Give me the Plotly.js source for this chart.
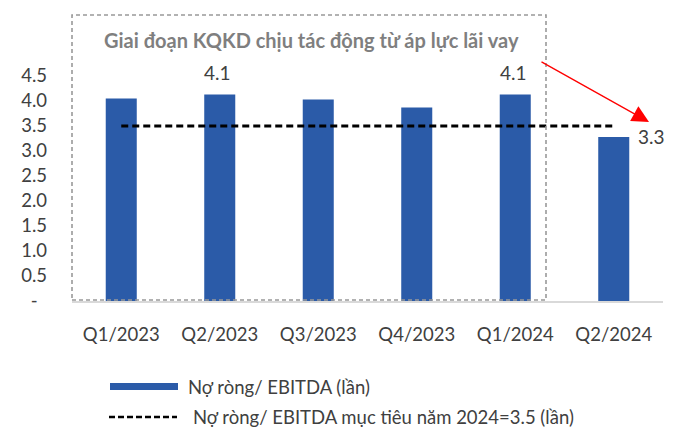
<!DOCTYPE html>
<html>
<head>
<meta charset="utf-8">
<script src="https://cdn.plot.ly/plotly-3.0.1.min.js"></script>
<style>html,body{margin:0;padding:0;background:#fff;}#chart{width:684px;height:442px;}</style>
</head>
<body>
<div id="chart"></div>
<script>
// ---- data ----
var categories = ["Q1/2023", "Q2/2023", "Q3/2023", "Q4/2023", "Q1/2024", "Q2/2024"];
var netDebtEbitda = [4.05, 4.13, 4.03, 3.87, 4.13, 3.28];
var target2024 = [3.5, 3.5, 3.5, 3.5, 3.5, 3.5];
var barLabels = ["", "4.1", "", "", "4.1", "3.3"];
var yTickVals = [0, 0.5, 1.0, 1.5, 2.0, 2.5, 3.0, 3.5, 4.0, 4.5];
var yTickText = ["-\u00a0\u00a0", "0.5", "1.0", "1.5", "2.0", "2.5", "3.0", "3.5", "4.0", "4.5"];
var seriesNames = ["Nợ ròng/ EBITDA (lần)", "Nợ ròng/ EBITDA mục tiêu năm 2024=3.5 (lần)"];
var boxTitle = "Giai đoạn KQKD chịu tác động từ áp lực lãi vay";

// ---- layout geometry (pixels) ----
var W = 684, H = 442;
var L = 72, R = 21, T = 76, B = 141;
var PW = W - L - R, PH = H - T - B;
function px(x) { return (x - L) / PW; }
function py(y) { return (H - B - y) / PH; }

var FONT = "Lato, 'Open Sans', sans-serif";
var TXT = "#404040";
var BLUE = "#2B5BA8";

var traces = [
  {
    type: "bar", x: categories, y: netDebtEbitda, name: seriesNames[0],
    width: 0.315, marker: {color: BLUE}, hoverinfo: "skip", showlegend: false
  },
  {
    type: "scatter", mode: "lines", x: categories, y: target2024, name: seriesNames[1],
    line: {color: "#000", width: 3, dash: "7px,4px"}, hoverinfo: "skip", showlegend: false
  }
];

var annotations = [];
for (var i = 0; i < categories.length; i++) {
  if (!barLabels[i]) continue;
  var last = (i === categories.length - 1);
  annotations.push({
    x: categories[i], y: netDebtEbitda[i], xref: "x", yref: "y",
    text: barLabels[i], showarrow: false,
    xanchor: "center", yanchor: "middle",
    xshift: last ? 38 : -2, yshift: last ? 1 : 22,
    font: {family: FONT, size: 19, color: TXT}
  });
}
// box title
annotations.push({
  x: px(102), y: py(40), xref: "paper", yref: "paper", xanchor: "left", yanchor: "middle",
  text: "<b>" + boxTitle + "</b>", showarrow: false,
  font: {family: FONT, size: 20, color: "#7F7F7F"}
});
// red arrow
annotations.push({
  x: px(649), y: py(122), xref: "paper", yref: "paper",
  ax: 540 - 649, ay: 61 - 122, axref: "pixel", ayref: "pixel",
  text: "", showarrow: true, arrowcolor: "#FF0000", arrowwidth: 1.3,
  arrowhead: 2, arrowsize: 2.6, standoff: 0
});
// legend texts
annotations.push({
  x: px(186), y: py(387), xref: "paper", yref: "paper", xanchor: "left", yanchor: "middle",
  text: seriesNames[0], showarrow: false, font: {family: FONT, size: 18.5, color: TXT}
});
annotations.push({
  x: px(191), y: py(417), xref: "paper", yref: "paper", xanchor: "left", yanchor: "middle",
  text: seriesNames[1], showarrow: false, font: {family: FONT, size: 18.5, color: TXT}
});

var shapes = [
  // dashed box around period
  {type: "rect", xref: "paper", yref: "paper", x0: px(72), x1: px(546), y0: py(300), y1: py(15),
   line: {color: "#999999", width: 1.6, dash: "4px,3px"}, fillcolor: "rgba(0,0,0,0)", layer: "above"},
  // legend bar swatch
  {type: "rect", xref: "paper", yref: "paper", x0: px(110), x1: px(178), y0: py(390), y1: py(383),
   line: {width: 0}, fillcolor: BLUE},
  // legend dashed line
  {type: "line", xref: "paper", yref: "paper", x0: px(109), x1: px(177), y0: py(417), y1: py(417),
   line: {color: "#000", width: 2.5, dash: "6px,3px"}}
];

var layout = {
  width: W, height: H,
  margin: {l: L, r: R, t: T, b: B, pad: 0},
  paper_bgcolor: "#fff", plot_bgcolor: "#fff",
  showlegend: false,
  font: {family: FONT, color: TXT},
  xaxis: {
    type: "category", range: [-0.5, 5.5], showgrid: false, zeroline: false,
    showline: true, linecolor: "#D9D9D9", linewidth: 1.5,
    ticks: "", ticklabelstandoff: 16,
    tickfont: {family: FONT, size: 18.5, color: TXT}, fixedrange: true
  },
  yaxis: {
    range: [0, 4.5], showgrid: false, zeroline: false, showline: false,
    tickmode: "array", tickvals: yTickVals, ticktext: yTickText,
    ticks: "", ticklabelstandoff: 24,
    tickfont: {family: FONT, size: 18.5, color: TXT}, fixedrange: true
  },
  annotations: annotations,
  shapes: shapes
};

Plotly.newPlot("chart", traces, layout, {displayModeBar: false, staticPlot: true});
</script>
</body>
</html>
